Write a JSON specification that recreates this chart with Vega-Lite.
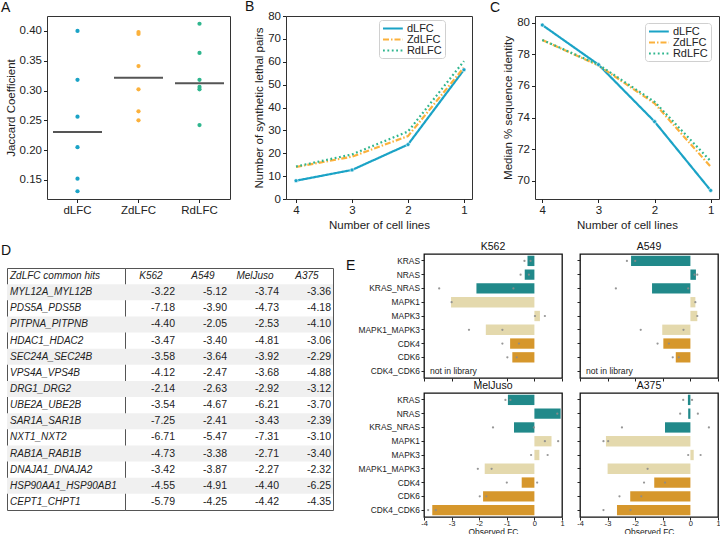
{
 "$schema": "https://vega.github.io/schema/vega-lite/v6.json",
 "background": "white",
 "padding": {"left": 0, "top": -1, "right": 0, "bottom": 0},
 "config": {
  "font": "Liberation Sans",
  "view": {"stroke": null},
  "axis": {"domain": false, "grid": false, "ticks": true, "tickSize": 3.5, "tickColor": "#222", "tickWidth": 1, "labelFontSize": 11.5, "labelColor": "#222", "labelPadding": 2, "labelOverlap": false, "labelFlush": false, "titleFontSize": 11.5, "titleFontWeight": "normal", "titleColor": "#222", "titlePadding": 3},
  "title": {"fontSize": 14, "fontWeight": "normal", "anchor": "start", "frame": "group", "baseline": "alphabetic", "color": "#111"},
  "locale": {"number": {"decimal": ".", "thousands": ",", "grouping": [3], "currency": ["$", ""], "minus": "-"}}
 },
 "datasets": {
  "jac": [
   {"method": "dLFC", "v": 0.400}, {"method": "dLFC", "v": 0.318}, {"method": "dLFC", "v": 0.256}, {"method": "dLFC", "v": 0.205}, {"method": "dLFC", "v": 0.152}, {"method": "dLFC", "v": 0.131},
   {"method": "ZdLFC", "v": 0.398}, {"method": "ZdLFC", "v": 0.395}, {"method": "ZdLFC", "v": 0.341}, {"method": "ZdLFC", "v": 0.302}, {"method": "ZdLFC", "v": 0.265}, {"method": "ZdLFC", "v": 0.250},
   {"method": "RdLFC", "v": 0.412}, {"method": "RdLFC", "v": 0.363}, {"method": "RdLFC", "v": 0.318}, {"method": "RdLFC", "v": 0.306}, {"method": "RdLFC", "v": 0.302}, {"method": "RdLFC", "v": 0.242}
  ],
  "nsl": [
   {"method": "dLFC", "n": 4, "v": 8.0}, {"method": "dLFC", "n": 3, "v": 12.7}, {"method": "dLFC", "n": 2, "v": 23.8}, {"method": "dLFC", "n": 1, "v": 56.5},
   {"method": "ZdLFC", "n": 4, "v": 14.0}, {"method": "ZdLFC", "n": 3, "v": 18.5}, {"method": "ZdLFC", "n": 2, "v": 27.5}, {"method": "ZdLFC", "n": 1, "v": 57.5},
   {"method": "RdLFC", "n": 4, "v": 14.2}, {"method": "RdLFC", "n": 3, "v": 19.5}, {"method": "RdLFC", "n": 2, "v": 29.5}, {"method": "RdLFC", "n": 1, "v": 60.3}
  ],
  "msi": [
   {"method": "dLFC", "n": 4, "v": 79.85}, {"method": "dLFC", "n": 3, "v": 77.35}, {"method": "dLFC", "n": 2, "v": 73.75}, {"method": "dLFC", "n": 1, "v": 69.4},
   {"method": "ZdLFC", "n": 4, "v": 78.9}, {"method": "ZdLFC", "n": 3, "v": 77.3}, {"method": "ZdLFC", "n": 2, "v": 74.9}, {"method": "ZdLFC", "n": 1, "v": 70.9},
   {"method": "RdLFC", "n": 4, "v": 78.9}, {"method": "RdLFC", "n": 3, "v": 77.35}, {"method": "RdLFC", "n": 2, "v": 75.0}, {"method": "RdLFC", "n": 1, "v": 71.25}
  ],
  "tbl": [
   {"gene": "MYL12A_MYL12B", "K562": -3.22, "A549": -5.12, "MelJuso": -3.74, "A375": -3.36},
   {"gene": "PDS5A_PDS5B", "K562": -7.18, "A549": -3.90, "MelJuso": -4.73, "A375": -4.18},
   {"gene": "PITPNA_PITPNB", "K562": -4.40, "A549": -2.05, "MelJuso": -2.53, "A375": -4.10},
   {"gene": "HDAC1_HDAC2", "K562": -3.47, "A549": -3.40, "MelJuso": -4.81, "A375": -3.06},
   {"gene": "SEC24A_SEC24B", "K562": -3.58, "A549": -3.64, "MelJuso": -3.92, "A375": -2.29},
   {"gene": "VPS4A_VPS4B", "K562": -4.12, "A549": -2.47, "MelJuso": -3.68, "A375": -4.88},
   {"gene": "DRG1_DRG2", "K562": -2.14, "A549": -2.63, "MelJuso": -2.92, "A375": -3.12},
   {"gene": "UBE2A_UBE2B", "K562": -3.54, "A549": -4.67, "MelJuso": -6.21, "A375": -3.70},
   {"gene": "SAR1A_SAR1B", "K562": -7.25, "A549": -2.41, "MelJuso": -3.43, "A375": -2.39},
   {"gene": "NXT1_NXT2", "K562": -6.71, "A549": -5.47, "MelJuso": -7.31, "A375": -3.10},
   {"gene": "RAB1A_RAB1B", "K562": -4.73, "A549": -3.38, "MelJuso": -2.71, "A375": -3.40},
   {"gene": "DNAJA1_DNAJA2", "K562": -3.42, "A549": -3.87, "MelJuso": -2.27, "A375": -2.32},
   {"gene": "HSP90AA1_HSP90AB1", "K562": -4.55, "A549": -4.91, "MelJuso": -4.40, "A375": -6.25},
   {"gene": "CEPT1_CHPT1", "K562": -5.79, "A549": -4.25, "MelJuso": -4.42, "A375": -4.35}
  ],
  "hdr": [
   {"gene": "ZdLFC common hits", "line": "K562"}, {"gene": "ZdLFC common hits", "line": "A549"}, {"gene": "ZdLFC common hits", "line": "MelJuso"}, {"gene": "ZdLFC common hits", "line": "A375"}
  ],
  "ebar": [
   {"cell": "K562", "gene": "KRAS", "grp": "RAS", "fc": -0.25}, {"cell": "K562", "gene": "NRAS", "grp": "RAS", "fc": -0.35}, {"cell": "K562", "gene": "KRAS_NRAS", "grp": "RAS", "fc": -2.1},
   {"cell": "K562", "gene": "MAPK1", "grp": "MAPK", "fc": -3.02}, {"cell": "K562", "gene": "MAPK3", "grp": "MAPK", "fc": 0.2}, {"cell": "K562", "gene": "MAPK1_MAPK3", "grp": "MAPK", "fc": -1.76},
   {"cell": "K562", "gene": "CDK4", "grp": "CDK", "fc": -0.88}, {"cell": "K562", "gene": "CDK6", "grp": "CDK", "fc": -0.8},
   {"cell": "A549", "gene": "KRAS", "grp": "RAS", "fc": -2.15}, {"cell": "A549", "gene": "NRAS", "grp": "RAS", "fc": 0.2}, {"cell": "A549", "gene": "KRAS_NRAS", "grp": "RAS", "fc": -1.39},
   {"cell": "A549", "gene": "MAPK1", "grp": "MAPK", "fc": 0.18}, {"cell": "A549", "gene": "MAPK3", "grp": "MAPK", "fc": 0.25}, {"cell": "A549", "gene": "MAPK1_MAPK3", "grp": "MAPK", "fc": -1.02},
   {"cell": "A549", "gene": "CDK4", "grp": "CDK", "fc": -0.98}, {"cell": "A549", "gene": "CDK6", "grp": "CDK", "fc": -0.53},
   {"cell": "MelJuso", "gene": "KRAS", "grp": "RAS", "fc": -0.96}, {"cell": "MelJuso", "gene": "NRAS", "grp": "RAS", "fc": 0.95}, {"cell": "MelJuso", "gene": "KRAS_NRAS", "grp": "RAS", "fc": -0.74},
   {"cell": "MelJuso", "gene": "MAPK1", "grp": "MAPK", "fc": 0.62}, {"cell": "MelJuso", "gene": "MAPK3", "grp": "MAPK", "fc": 0.18}, {"cell": "MelJuso", "gene": "MAPK1_MAPK3", "grp": "MAPK", "fc": -1.8},
   {"cell": "MelJuso", "gene": "CDK4", "grp": "CDK", "fc": -0.46}, {"cell": "MelJuso", "gene": "CDK6", "grp": "CDK", "fc": -1.86}, {"cell": "MelJuso", "gene": "CDK4_CDK6", "grp": "CDK", "fc": -3.7},
   {"cell": "A375", "gene": "KRAS", "grp": "RAS", "fc": -0.09}, {"cell": "A375", "gene": "NRAS", "grp": "RAS", "fc": -0.08}, {"cell": "A375", "gene": "KRAS_NRAS", "grp": "RAS", "fc": -0.92},
   {"cell": "A375", "gene": "MAPK1", "grp": "MAPK", "fc": -3.06}, {"cell": "A375", "gene": "MAPK3", "grp": "MAPK", "fc": 0.12}, {"cell": "A375", "gene": "MAPK1_MAPK3", "grp": "MAPK", "fc": -3.0},
   {"cell": "A375", "gene": "CDK4", "grp": "CDK", "fc": -1.31}, {"cell": "A375", "gene": "CDK6", "grp": "CDK", "fc": -2.18}, {"cell": "A375", "gene": "CDK4_CDK6", "grp": "CDK", "fc": -2.66}
  ],
  "edot": [
   {"cell": "K562", "gene": "KRAS", "fc": -0.36}, {"cell": "K562", "gene": "KRAS", "fc": -0.14}, {"cell": "K562", "gene": "NRAS", "fc": -0.5}, {"cell": "K562", "gene": "NRAS", "fc": -0.2},
   {"cell": "K562", "gene": "KRAS_NRAS", "fc": -3.45}, {"cell": "K562", "gene": "KRAS_NRAS", "fc": -0.76}, {"cell": "K562", "gene": "MAPK1", "fc": -3.0},
   {"cell": "K562", "gene": "MAPK3", "fc": 0.02}, {"cell": "K562", "gene": "MAPK3", "fc": 0.38}, {"cell": "K562", "gene": "MAPK1_MAPK3", "fc": -2.37}, {"cell": "K562", "gene": "MAPK1_MAPK3", "fc": -1.16},
   {"cell": "K562", "gene": "CDK4", "fc": -1.16}, {"cell": "K562", "gene": "CDK4", "fc": -0.56}, {"cell": "K562", "gene": "CDK6", "fc": -0.98}, {"cell": "K562", "gene": "CDK6", "fc": -0.64},
   {"cell": "A549", "gene": "KRAS", "fc": -2.3}, {"cell": "A549", "gene": "KRAS", "fc": -2.0}, {"cell": "A549", "gene": "NRAS", "fc": 0.15}, {"cell": "A549", "gene": "NRAS", "fc": 0.25},
   {"cell": "A549", "gene": "KRAS_NRAS", "fc": -2.7}, {"cell": "A549", "gene": "KRAS_NRAS", "fc": -0.08}, {"cell": "A549", "gene": "MAPK1", "fc": 0.18}, {"cell": "A549", "gene": "MAPK3", "fc": 0.25},
   {"cell": "A549", "gene": "MAPK1_MAPK3", "fc": -1.8}, {"cell": "A549", "gene": "MAPK1_MAPK3", "fc": -0.25}, {"cell": "A549", "gene": "CDK4", "fc": -1.19}, {"cell": "A549", "gene": "CDK4", "fc": -0.78},
   {"cell": "A549", "gene": "CDK6", "fc": -0.64}, {"cell": "A549", "gene": "CDK6", "fc": -0.42},
   {"cell": "MelJuso", "gene": "KRAS", "fc": -1.05}, {"cell": "MelJuso", "gene": "KRAS", "fc": -0.87}, {"cell": "MelJuso", "gene": "NRAS", "fc": 0.83},
   {"cell": "MelJuso", "gene": "KRAS_NRAS", "fc": -1.5}, {"cell": "MelJuso", "gene": "KRAS_NRAS", "fc": -0.02}, {"cell": "MelJuso", "gene": "MAPK1", "fc": 0.38}, {"cell": "MelJuso", "gene": "MAPK1", "fc": 0.86},
   {"cell": "MelJuso", "gene": "MAPK3", "fc": -0.12}, {"cell": "MelJuso", "gene": "MAPK3", "fc": 0.48}, {"cell": "MelJuso", "gene": "MAPK1_MAPK3", "fc": -2.05}, {"cell": "MelJuso", "gene": "MAPK1_MAPK3", "fc": -1.55},
   {"cell": "MelJuso", "gene": "CDK4", "fc": -1.0}, {"cell": "MelJuso", "gene": "CDK4", "fc": 0.1}, {"cell": "MelJuso", "gene": "CDK6", "fc": -1.98}, {"cell": "MelJuso", "gene": "CDK6", "fc": -1.74},
   {"cell": "MelJuso", "gene": "CDK4_CDK6", "fc": -3.85}, {"cell": "MelJuso", "gene": "CDK4_CDK6", "fc": -3.57},
   {"cell": "A375", "gene": "KRAS", "fc": -0.26}, {"cell": "A375", "gene": "KRAS", "fc": 0.06}, {"cell": "A375", "gene": "NRAS", "fc": -0.37}, {"cell": "A375", "gene": "NRAS", "fc": 0.27},
   {"cell": "A375", "gene": "KRAS_NRAS", "fc": -2.48}, {"cell": "A375", "gene": "KRAS_NRAS", "fc": 0.67}, {"cell": "A375", "gene": "MAPK1", "fc": -3.15}, {"cell": "A375", "gene": "MAPK1", "fc": -2.98},
   {"cell": "A375", "gene": "MAPK3", "fc": -0.08}, {"cell": "A375", "gene": "MAPK3", "fc": 0.37}, {"cell": "A375", "gene": "MAPK1_MAPK3", "fc": -1.55},
   {"cell": "A375", "gene": "CDK4", "fc": -1.68}, {"cell": "A375", "gene": "CDK4", "fc": -0.92}, {"cell": "A375", "gene": "CDK6", "fc": -2.57}, {"cell": "A375", "gene": "CDK6", "fc": -1.78},
   {"cell": "A375", "gene": "CDK4_CDK6", "fc": -3.15}, {"cell": "A375", "gene": "CDK4_CDK6", "fc": -2.17}
  ],
  "nolib": [
   {"cell": "K562", "gene": "CDK4_CDK6", "label": "not in library"},
   {"cell": "A549", "gene": "CDK4_CDK6", "label": "not in library"}
  ]
 },
 "spacing": 238,
 "bounds": "flush",
 "resolve": {"scale": {"color": "independent", "strokeDash": "independent", "fill": "independent"}},
 "vconcat": [
  {
   "hconcat": [
    {"width": 40, "height": 183, "data": {"values": [{"s": 1}]}, "mark": {"type": "point", "opacity": 0}, "encoding": {}},
    {
     "width": 183, "height": 183,
     "title": {"text": "A", "dx": -46, "offset": 1},
     "view": {"stroke": "#333", "strokeWidth": 1},
     "data": {"name": "jac"},
     "layer": [
      {"mark": {"type": "circle", "size": 18, "opacity": 1},
       "encoding": {
        "x": {"field": "method", "type": "nominal", "scale": {"type": "band", "domain": ["dLFC", "ZdLFC", "RdLFC"], "paddingInner": 0, "paddingOuter": 0}, "axis": {"title": null, "labelAngle": 0}},
        "y": {"field": "v", "type": "quantitative", "scale": {"domain": [0.118, 0.425], "nice": false, "zero": false}, "axis": {"values": [0.15, 0.2, 0.25, 0.3, 0.35, 0.4], "tickCount": 30, "format": ".2f", "title": "Jaccard Coefficient"}},
        "color": {"field": "method", "type": "nominal", "scale": {"domain": ["dLFC", "ZdLFC", "RdLFC"], "range": ["#1ba3c6", "#fbb13c", "#2fb68e"]}, "legend": null}
       }},
      {"mark": {"type": "tick", "size": 49, "thickness": 2, "color": "#555", "orient": "horizontal"},
       "encoding": {
        "x": {"field": "method", "type": "nominal", "scale": {"type": "band"}},
        "y": {"aggregate": "median", "field": "v", "type": "quantitative"}
       }}
     ]
    },
    {"width": 56, "height": 183, "data": {"values": [{"s": 1}]}, "mark": {"type": "point", "opacity": 0}, "encoding": {}},
    {
     "width": 186, "height": 183,
     "title": {"text": "B", "dx": -41, "offset": -3.75},
     "view": {"stroke": "#333", "strokeWidth": 1},
     "data": {"name": "nsl"},
     "layer": [
      {"mark": {"type": "line", "strokeWidth": 2.2},
       "encoding": {
        "x": {"field": "n", "type": "quantitative", "scale": {"domain": [0.857, 4.179], "reverse": true, "nice": false, "zero": false}, "axis": {"values": [4, 3, 2, 1], "tickCount": 30, "format": "d", "title": "Number of cell lines"}},
        "y": {"field": "v", "type": "quantitative", "scale": {"domain": [0, 80], "nice": false}, "axis": {"values": [0, 10, 20, 30, 40, 50, 60, 70, 80], "tickCount": 30, "format": "d", "title": "Number of synthetic lethal pairs"}},
        "color": {"field": "method", "type": "nominal", "scale": {"domain": ["dLFC", "ZdLFC", "RdLFC"], "range": ["#1ba3c6", "#fbb13c", "#2fb68e"]},
         "legend": {"title": null, "orient": "none", "legendX": 93, "legendY": 4, "padding": 2.5, "labelFontSize": 11, "labelColor": "#222", "symbolType": "M-2.2,0L2.2,0", "symbolSize": 81, "symbolStrokeWidth": 2.2, "symbolOffset": 5.4, "rowPadding": 0, "labelOffset": 8, "strokeColor": "#d0d0d0", "fillColor": "#ffffff", "cornerRadius": 3}},
        "strokeDash": {"field": "method", "type": "nominal", "scale": {"domain": ["dLFC", "ZdLFC", "RdLFC"], "range": [[1, 0], [6, 2, 1.5, 2], [1.8, 2.6]]},
         "legend": {"title": null, "orient": "none", "legendX": 93, "legendY": 4, "padding": 2.5, "labelFontSize": 11, "labelColor": "#222", "symbolType": "M-2.2,0L2.2,0", "symbolSize": 81, "symbolStrokeWidth": 2.2, "symbolOffset": 5.4, "rowPadding": 0, "labelOffset": 8, "strokeColor": "#d0d0d0", "fillColor": "#ffffff", "cornerRadius": 3}}
       }},
      {"transform": [{"filter": "datum.method === 'dLFC'"}],
       "mark": {"type": "circle", "size": 16, "color": "#1ba3c6", "stroke": "white", "strokeWidth": 0.6, "opacity": 1},
       "encoding": {"x": {"field": "n", "type": "quantitative"}, "y": {"field": "v", "type": "quantitative"}}}
     ]
    },
    {"width": 63, "height": 183, "data": {"values": [{"s": 1}]}, "mark": {"type": "point", "opacity": 0}, "encoding": {}},
    {
     "width": 184, "height": 183,
     "title": {"text": "C", "dx": -45, "offset": 1},
     "view": {"stroke": "#333", "strokeWidth": 1},
     "data": {"name": "msi"},
     "layer": [
      {"mark": {"type": "line", "strokeWidth": 2.2},
       "encoding": {
        "x": {"field": "n", "type": "quantitative", "scale": {"domain": [0.852, 4.13], "reverse": true, "nice": false, "zero": false}, "axis": {"values": [4, 3, 2, 1], "tickCount": 30, "format": "d", "title": "Number of cell lines"}},
        "y": {"field": "v", "type": "quantitative", "scale": {"domain": [68.86, 80.42], "nice": false, "zero": false}, "axis": {"values": [70, 72, 74, 76, 78, 80], "tickCount": 30, "format": "d", "title": "Median % sequence identity"}},
        "color": {"field": "method", "type": "nominal", "scale": {"domain": ["dLFC", "ZdLFC", "RdLFC"], "range": ["#1ba3c6", "#fbb13c", "#2fb68e"]},
         "legend": {"title": null, "orient": "none", "legendX": 110, "legendY": 7, "padding": 2.5, "labelFontSize": 11, "labelColor": "#222", "symbolType": "M-2.2,0L2.2,0", "symbolSize": 81, "symbolStrokeWidth": 2.2, "symbolOffset": 5.4, "rowPadding": 0, "labelOffset": 8, "strokeColor": "#d0d0d0", "fillColor": "#ffffff", "cornerRadius": 3}},
        "strokeDash": {"field": "method", "type": "nominal", "scale": {"domain": ["dLFC", "ZdLFC", "RdLFC"], "range": [[1, 0], [6, 2, 1.5, 2], [1.8, 2.6]]},
         "legend": {"title": null, "orient": "none", "legendX": 110, "legendY": 7, "padding": 2.5, "labelFontSize": 11, "labelColor": "#222", "symbolType": "M-2.2,0L2.2,0", "symbolSize": 81, "symbolStrokeWidth": 2.2, "symbolOffset": 5.4, "rowPadding": 0, "labelOffset": 8, "strokeColor": "#d0d0d0", "fillColor": "#ffffff", "cornerRadius": 3}}
       }},
      {"transform": [{"filter": "datum.method === 'dLFC'"}],
       "mark": {"type": "circle", "size": 16, "color": "#1ba3c6", "stroke": "white", "strokeWidth": 0.6, "opacity": 1},
       "encoding": {"x": {"field": "n", "type": "quantitative"}, "y": {"field": "v", "type": "quantitative"}}}
     ]
    }
   ],
   "spacing": 0,
   "bounds": "flush",
   "resolve": {"scale": {"color": "independent", "strokeDash": "independent"}}
  },
  {
   "hconcat": [
    {
     "vconcat": [
      {"width": 1, "height": 1, "data": {"values": [{"s": 1}]}, "mark": {"type": "point", "opacity": 0}, "encoding": {}},
      {
       "hconcat": [
        {
         "width": 118, "height": 242,
         "title": {"text": "D", "dx": -6, "offset": 10},
         "view": {"stroke": "#555", "strokeWidth": 1},
         "layer": [
          {"data": {"name": "tbl"}, "transform": [{"window": [{"op": "row_number", "as": "rn"}]}, {"filter": "datum.rn % 2 === 1"}],
           "mark": {"type": "rect", "color": "#f0f0f0"},
           "encoding": {"y": {"field": "gene", "type": "nominal", "scale": {"domain": ["ZdLFC common hits", "MYL12A_MYL12B", "PDS5A_PDS5B", "PITPNA_PITPNB", "HDAC1_HDAC2", "SEC24A_SEC24B", "VPS4A_VPS4B", "DRG1_DRG2", "UBE2A_UBE2B", "SAR1A_SAR1B", "NXT1_NXT2", "RAB1A_RAB1B", "DNAJA1_DNAJA2", "HSP90AA1_HSP90AB1", "CEPT1_CHPT1"], "paddingInner": 0, "paddingOuter": 0}, "axis": null}}},
          {"data": {"name": "tbl"},
           "mark": {"type": "text", "align": "left", "dx": -56, "fontStyle": "italic", "fontSize": 10, "color": "#222"},
           "encoding": {"y": {"field": "gene", "type": "nominal", "axis": null}, "text": {"field": "gene"}}},
          {"data": {"values": [{"gene": "ZdLFC common hits"}]},
           "mark": {"type": "text", "align": "left", "dx": -56, "fontStyle": "italic", "fontSize": 10, "color": "#222"},
           "encoding": {"y": {"field": "gene", "type": "nominal", "axis": null}, "text": {"field": "gene"}}}
         ]
        },
        {
         "width": 208, "height": 242,
         "title": {"text": "E", "dx": 221, "offset": -5},
         "view": {"stroke": "#555", "strokeWidth": 1},
         "layer": [
          {"data": {"name": "tbl"}, "transform": [{"window": [{"op": "row_number", "as": "rn"}]}, {"filter": "datum.rn % 2 === 1"}],
           "mark": {"type": "rect", "color": "#f0f0f0"},
           "encoding": {"y": {"field": "gene", "type": "nominal", "scale": {"domain": ["ZdLFC common hits", "MYL12A_MYL12B", "PDS5A_PDS5B", "PITPNA_PITPNB", "HDAC1_HDAC2", "SEC24A_SEC24B", "VPS4A_VPS4B", "DRG1_DRG2", "UBE2A_UBE2B", "SAR1A_SAR1B", "NXT1_NXT2", "RAB1A_RAB1B", "DNAJA1_DNAJA2", "HSP90AA1_HSP90AB1", "CEPT1_CHPT1"], "paddingInner": 0, "paddingOuter": 0}, "axis": null}}},
          {"data": {"name": "tbl"}, "transform": [{"fold": ["K562", "A549", "MelJuso", "A375"], "as": ["line", "v"]}],
           "mark": {"type": "text", "align": "right", "dx": -2, "fontSize": 10.5, "color": "#222"},
           "encoding": {
            "y": {"field": "gene", "type": "nominal", "axis": null},
            "x": {"field": "line", "type": "nominal", "bandPosition": 1, "scale": {"type": "band", "domain": ["K562", "A549", "MelJuso", "A375"], "paddingInner": 0, "paddingOuter": 0}, "axis": null},
            "text": {"field": "v", "type": "quantitative", "format": ".2f"}}},
          {"data": {"name": "hdr"},
           "mark": {"type": "text", "fontStyle": "italic", "fontSize": 10, "color": "#222"},
           "encoding": {
            "y": {"field": "gene", "type": "nominal", "axis": null},
            "x": {"field": "line", "type": "nominal", "scale": {"type": "band"}, "axis": null},
            "text": {"field": "line"}}}
         ]
        }
       ],
       "spacing": 0,
       "bounds": "flush"
      }
     ],
     "spacing": 13,
     "bounds": "flush"
    },
    {
     "concat": [
      {
       "width": 138, "height": 124,
       "title": {"text": "K562", "anchor": "middle", "fontSize": 10.5, "offset": 2},
       "view": {"stroke": "#111", "strokeWidth": 1.3},
       "layer": [
        {"data": {"name": "ebar"}, "transform": [{"filter": "datum.cell === 'K562'"}],
         "mark": {"type": "bar"},
         "encoding": {
          "y": {"field": "gene", "type": "nominal", "scale": {"domain": ["KRAS", "NRAS", "KRAS_NRAS", "MAPK1", "MAPK3", "MAPK1_MAPK3", "CDK4", "CDK6", "CDK4_CDK6"], "paddingInner": 0.25, "paddingOuter": 0.125}, "axis": {"title": null, "labelFontSize": 8.4, "tickSize": 3, "labelPadding": 1.5}},
          "x": {"field": "fc", "type": "quantitative", "scale": {"domain": [-4, 1], "nice": false, "zero": false}, "axis": {"values": [-4, -3, -2, -1, 0, 1], "tickCount": 30, "labels": false, "title": null, "tickSize": 3}},
          "x2": {"datum": 0},
          "fill": {"field": "grp", "type": "nominal", "scale": {"domain": ["RAS", "MAPK", "CDK"], "range": ["#21898a", "#e4d9ad", "#d6972c"]}, "legend": null}}},
        {"data": {"name": "edot"}, "transform": [{"filter": "datum.cell === 'K562'"}],
         "mark": {"type": "circle", "size": 5, "color": "#8c8c8c", "opacity": 0.9},
         "encoding": {"y": {"field": "gene", "type": "nominal"}, "x": {"field": "fc", "type": "quantitative"}}},
        {"data": {"name": "nolib"}, "transform": [{"filter": "datum.cell === 'K562'"}],
         "mark": {"type": "text", "align": "left", "dx": 6, "fontSize": 8.6, "color": "#222"},
         "encoding": {"y": {"field": "gene", "type": "nominal"}, "x": {"datum": -4}, "text": {"field": "label"}}}
       ]
      },
      {
       "width": 138, "height": 124,
       "title": {"text": "A549", "anchor": "middle", "fontSize": 10.5, "offset": 2},
       "view": {"stroke": "#111", "strokeWidth": 1.3},
       "layer": [
        {"data": {"name": "ebar"}, "transform": [{"filter": "datum.cell === 'A549'"}],
         "mark": {"type": "bar"},
         "encoding": {
          "y": {"field": "gene", "type": "nominal", "scale": {"domain": ["KRAS", "NRAS", "KRAS_NRAS", "MAPK1", "MAPK3", "MAPK1_MAPK3", "CDK4", "CDK6", "CDK4_CDK6"], "paddingInner": 0.25, "paddingOuter": 0.125}, "axis": {"title": null, "labels": false, "tickSize": 3}},
          "x": {"field": "fc", "type": "quantitative", "scale": {"domain": [-4, 1], "nice": false, "zero": false}, "axis": {"values": [-4, -3, -2, -1, 0, 1], "tickCount": 30, "labels": false, "title": null, "tickSize": 3}},
          "x2": {"datum": 0},
          "fill": {"field": "grp", "type": "nominal", "scale": {"domain": ["RAS", "MAPK", "CDK"], "range": ["#21898a", "#e4d9ad", "#d6972c"]}, "legend": null}}},
        {"data": {"name": "edot"}, "transform": [{"filter": "datum.cell === 'A549'"}],
         "mark": {"type": "circle", "size": 5, "color": "#8c8c8c", "opacity": 0.9},
         "encoding": {"y": {"field": "gene", "type": "nominal"}, "x": {"field": "fc", "type": "quantitative"}}},
        {"data": {"name": "nolib"}, "transform": [{"filter": "datum.cell === 'A549'"}],
         "mark": {"type": "text", "align": "left", "dx": 6, "fontSize": 8.6, "color": "#222"},
         "encoding": {"y": {"field": "gene", "type": "nominal"}, "x": {"datum": -4}, "text": {"field": "label"}}}
       ]
      },
      {
       "width": 138, "height": 124,
       "title": {"text": "MelJuso", "anchor": "middle", "fontSize": 10.5, "offset": 2},
       "view": {"stroke": "#111", "strokeWidth": 1.3},
       "layer": [
        {"data": {"name": "ebar"}, "transform": [{"filter": "datum.cell === 'MelJuso'"}],
         "mark": {"type": "bar"},
         "encoding": {
          "y": {"field": "gene", "type": "nominal", "scale": {"domain": ["KRAS", "NRAS", "KRAS_NRAS", "MAPK1", "MAPK3", "MAPK1_MAPK3", "CDK4", "CDK6", "CDK4_CDK6"], "paddingInner": 0.25, "paddingOuter": 0.125}, "axis": {"title": null, "labelFontSize": 8.4, "tickSize": 3, "labelPadding": 1.5}},
          "x": {"field": "fc", "type": "quantitative", "scale": {"domain": [-4, 1], "nice": false, "zero": false}, "axis": {"values": [-4, -3, -2, -1, 0, 1], "tickCount": 30, "format": "d", "labelFontSize": 7.5, "labelPadding": -0.5, "title": "Observed FC", "titleFontSize": 8.4, "titlePadding": 0, "tickSize": 3}},
          "x2": {"datum": 0},
          "fill": {"field": "grp", "type": "nominal", "scale": {"domain": ["RAS", "MAPK", "CDK"], "range": ["#21898a", "#e4d9ad", "#d6972c"]}, "legend": null}}},
        {"data": {"name": "edot"}, "transform": [{"filter": "datum.cell === 'MelJuso'"}],
         "mark": {"type": "circle", "size": 5, "color": "#8c8c8c", "opacity": 0.9},
         "encoding": {"y": {"field": "gene", "type": "nominal"}, "x": {"field": "fc", "type": "quantitative"}}}
       ]
      },
      {
       "width": 138, "height": 124,
       "title": {"text": "A375", "anchor": "middle", "fontSize": 10.5, "offset": 2},
       "view": {"stroke": "#111", "strokeWidth": 1.3},
       "layer": [
        {"data": {"name": "ebar"}, "transform": [{"filter": "datum.cell === 'A375'"}],
         "mark": {"type": "bar"},
         "encoding": {
          "y": {"field": "gene", "type": "nominal", "scale": {"domain": ["KRAS", "NRAS", "KRAS_NRAS", "MAPK1", "MAPK3", "MAPK1_MAPK3", "CDK4", "CDK6", "CDK4_CDK6"], "paddingInner": 0.25, "paddingOuter": 0.125}, "axis": {"title": null, "labels": false, "tickSize": 3}},
          "x": {"field": "fc", "type": "quantitative", "scale": {"domain": [-4, 1], "nice": false, "zero": false}, "axis": {"values": [-4, -3, -2, -1, 0, 1], "tickCount": 30, "format": "d", "labelFontSize": 7.5, "labelPadding": -0.5, "title": "Observed FC", "titleFontSize": 8.4, "titlePadding": 0, "tickSize": 3}},
          "x2": {"datum": 0},
          "fill": {"field": "grp", "type": "nominal", "scale": {"domain": ["RAS", "MAPK", "CDK"], "range": ["#21898a", "#e4d9ad", "#d6972c"]}, "legend": null}}},
        {"data": {"name": "edot"}, "transform": [{"filter": "datum.cell === 'A375'"}],
         "mark": {"type": "circle", "size": 5, "color": "#8c8c8c", "opacity": 0.9},
         "encoding": {"y": {"field": "gene", "type": "nominal"}, "x": {"field": "fc", "type": "quantitative"}}}
       ]
      }
     ],
     "columns": 2,
     "spacing": {"row": 15, "column": 18},
     "bounds": "flush"
    }
   ],
   "spacing": 417,
   "bounds": "flush"
  }
 ]
}
